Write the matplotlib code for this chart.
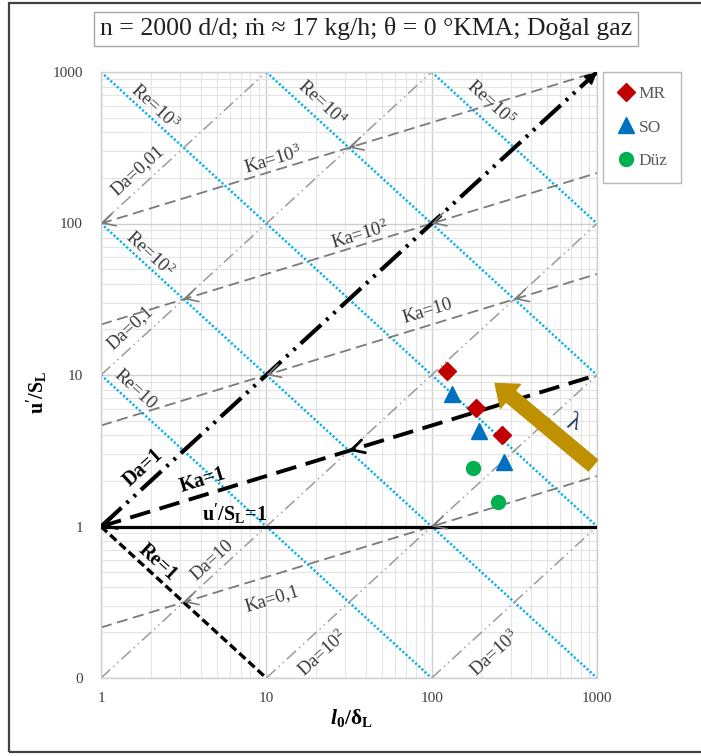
import numpy as np
import matplotlib
matplotlib.use("Agg")
import matplotlib.pyplot as plt
from matplotlib.ticker import FixedLocator, FixedFormatter, NullFormatter, LogLocator
from matplotlib.patches import Rectangle

plt.rcParams['font.family'] = ['Liberation Serif', 'DejaVu Serif']
plt.rcParams['mathtext.fontset'] = 'custom'
plt.rcParams['mathtext.rm'] = 'Liberation Serif'
plt.rcParams['mathtext.it'] = 'Liberation Serif:italic'
plt.rcParams['mathtext.bf'] = 'Liberation Serif:bold'
plt.rcParams['mathtext.bfit'] = 'Liberation Serif:bold:italic'
plt.rcParams['lines.scale_dashes'] = False

# ---- data ----
title = "n = 2000 d/d; ṁ ≈ 17 kg/h; θ = 0 °KMA; Doğal gaz"
series_names = ["MR", "SO", "Düz"]
mr_x = [123, 185, 266]
mr_y = [10.7, 6.1, 4.0]
so_x = [132, 194, 272]
so_y = [7.5, 4.3, 2.66]
duz_x = [177, 253]
duz_y = [2.44, 1.45]

x_ticks = [1, 10, 100, 1000]
x_tick_labels = ["1", "10", "100", "1000"]
y_ticks = [0.1, 1, 10, 100, 1000]
y_tick_labels = ["0", "1", "10", "100", "1000"]

re_values = [10, 100, 1000, 1e4, 1e5]      # blue dotted, Re = u' l / (S_L delta)
da_values = [0.01, 0.1, 10, 100, 1000]      # grey dash-dot-dot, Da = l / u'
ka_values = [0.1, 10, 100, 1000]            # grey dashed, Ka = u'^1.5 l^-0.5

# lambda trend arrow (tail -> head)
lam_tail = (947, 2.53)
lam_head = (242, 8.79)

XMIN, XMAX = 1, 1000
YMIN, YMAX = 0.1, 1000

W, H = 701, 756
fig = plt.figure(figsize=(W / 100, H / 100), dpi=100)
ax = fig.add_axes([101 / W, 1 - 678 / H, 496 / W, 606 / H])
ax.set_xscale('log')
ax.set_yscale('log')
ax.set_xlim(XMIN, XMAX)
ax.set_ylim(YMIN, YMAX)

# grid
ax.xaxis.set_minor_locator(LogLocator(base=10, subs=np.arange(2, 10)))
ax.yaxis.set_minor_locator(LogLocator(base=10, subs=np.arange(2, 10)))
ax.xaxis.set_minor_formatter(NullFormatter())
ax.yaxis.set_minor_formatter(NullFormatter())
ax.grid(which='major', color='#CFCFCF', lw=1.0, zorder=0)
ax.grid(which='minor', color='#E4E4E4', lw=0.8, zorder=0)
ax.set_axisbelow(True)
for s in ax.spines.values():
    s.set_color('#D0D0D0')
    s.set_linewidth(1.0)

ax.xaxis.set_major_locator(FixedLocator(x_ticks))
ax.xaxis.set_major_formatter(FixedFormatter(x_tick_labels))
ax.yaxis.set_major_locator(FixedLocator(y_ticks))
ax.yaxis.set_major_formatter(FixedFormatter(y_tick_labels))
ax.tick_params(which='both', length=0, labelsize=11, colors='#404040')
ax.tick_params(axis='x', pad=10)
ax.tick_params(axis='y', pad=13)

lx = np.logspace(0, 3, 400)


def clipped(xs, ys):
    m = (xs >= XMIN * 0.999) & (xs <= XMAX * 1.001) & (ys >= YMIN * 0.999) & (ys <= YMAX * 1.001)
    return xs[m], ys[m]


# Re lines
for re in re_values:
    xs, ys = clipped(lx, re / lx)
    ax.plot(xs, ys, color='#00B0F0', lw=1.8, dashes=(1.5, 1.6), zorder=2)
xs, ys = clipped(lx, 1 / lx)
ax.plot(xs, ys, color='black', lw=2.4, dashes=(6, 3), zorder=3)

# Da lines
for da in da_values:
    xs, ys = clipped(lx, lx / da)
    ax.plot(xs, ys, color='#9A9A9A', lw=1.1, dashes=(9, 3, 1, 3, 1, 3), zorder=2)
ax.plot(lx, lx, color='black', lw=3.0, dashes=(20, 5, 2, 5, 2, 5), zorder=3)

# Ka lines
for ka in ka_values:
    xs, ys = clipped(lx, ka ** (2 / 3) * lx ** (1 / 3))
    ax.plot(xs, ys, color='#7A7A7A', lw=1.3, dashes=(8, 4), zorder=2)
ax.plot(lx, lx ** (1 / 3), color='black', lw=2.8, dashes=(15, 7), zorder=3)

# u'/S_L = 1
ax.plot([XMIN, XMAX], [1, 1], color='black', lw=2.3, zorder=3)


def open_head(x, y, slope, color, lw):
    # open arrow head at (x, y) pointing toward smaller l along a line of given log slope
    ax.annotate('', xy=(x, y), xytext=(x * 1.08, y * 1.08 ** slope),
                arrowprops=dict(arrowstyle='->,head_length=0.55,head_width=0.3',
                                color=color, lw=lw, shrinkA=0, shrinkB=0,
                                mutation_scale=16), zorder=4)


# arrow heads where the Ka lines meet the Da lines
for ka in ka_values + [1]:
    for da in da_values + [1]:
        xi = ka * da ** 1.5
        yi = xi / da
        if XMIN * 0.999 <= xi < XMAX * 0.99 and YMIN <= yi <= YMAX:
            if ka == 1:
                open_head(xi, yi, 1 / 3, 'black', 2.0)
            else:
                open_head(xi, yi, 1 / 3, '#7A7A7A', 1.2)

# filled head at the end of the Da = 1 line
ax.annotate('', xy=(XMAX, YMAX), xytext=(XMAX / 1.1, YMAX / 1.1),
            arrowprops=dict(arrowstyle='-|>,head_length=0.5,head_width=0.25', color='black',
                            lw=1.5, shrinkA=0, shrinkB=0, mutation_scale=14), zorder=4)

# rotation angles of the families in screen space
dec_x = 496 / 3
dec_y = 606 / 4
ang_re = -np.degrees(np.arctan(dec_y / dec_x))
ang_da = np.degrees(np.arctan(dec_y / dec_x))
ang_ka = np.degrees(np.arctan(dec_y / 3 / dec_x))

lab_kw = dict(ha='center', va='center', fontsize=13.5, color='#3A3A3A', zorder=5)
bold_kw = dict(ha='center', va='center', fontsize=14.5, color='black', fontweight='bold', zorder=5)

ax.text(2.12, 583, r"Re=10$^3$", rotation=ang_re, **lab_kw)
ax.text(21.7, 620, r"Re=10$^4$", rotation=ang_re, **lab_kw)
ax.text(226, 620, r"Re=10$^5$", rotation=ang_re, **lab_kw)
ax.text(1.98, 63, r"Re=10$^2$", rotation=ang_re, **lab_kw)
ax.text(1.6, 8.0, "Re=10", rotation=ang_re, **lab_kw)
ax.text(2.21, 0.578, "Re=1", rotation=ang_re, **bold_kw)

ax.text(1.67, 224, "Da=0,01", rotation=ang_da, **lab_kw)
ax.text(1.5, 20.6, "Da=0,1", rotation=ang_da, **lab_kw)
ax.text(1.8, 2.45, "Da=1", rotation=ang_da, **bold_kw)
ax.text(4.7, 0.597, "Da=10", rotation=ang_da, **lab_kw)
ax.text(22, 0.145, r"Da=10$^2$", rotation=ang_da, **lab_kw)
ax.text(239, 0.145, r"Da=10$^3$", rotation=ang_da, **lab_kw)

ax.text(11, 261, r"Ka=10$^3$", rotation=ang_ka, **lab_kw)
ax.text(36.9, 83.4, r"Ka=10$^2$", rotation=ang_ka, **lab_kw)
ax.text(95, 26.3, "Ka=10", rotation=ang_ka, **lab_kw)
ax.text(4.14, 2.01, "Ka=1", rotation=ang_ka, **bold_kw)
ax.text(10.8, 0.335, "Ka=0,1", rotation=ang_ka, **lab_kw)

ax.text(6.47, 1.22, r"$\mathbf{u'/S_L}$=1", **bold_kw)

# data series
ax.plot(mr_x, mr_y, 'D', color='#C00000', ms=9, mec='#C00000', zorder=7, label=series_names[0])
ax.plot(so_x, so_y, '^', color='#0070C0', ms=11, mec='#0070C0', zorder=7, label=series_names[1])
ax.plot(duz_x, duz_y, 'o', color='#00B050', ms=10, mec='#00B050', zorder=7, label=series_names[2])

# lambda trend arrow
ax.annotate('', xy=lam_head, xytext=lam_tail,
            arrowprops=dict(arrowstyle='simple,head_length=0.9,head_width=1.4,tail_width=0.65',
                            color='#BF9000', shrinkA=0, shrinkB=0, mutation_scale=16), zorder=6)
ax.text(727, 4.86, "λ", color='#1F3864', fontsize=19, style='italic', ha='center',
        va='center', rotation=-15, zorder=6)

leg = fig.legend(loc='upper left', bbox_to_anchor=(603 / W, 1 - 72 / H),
                 bbox_transform=fig.transFigure, frameon=True, fancybox=False,
                 edgecolor='#A6A6A6', fontsize=12.5, labelspacing=1.0, handlelength=1.0,
                 handletextpad=0.25, borderpad=0.8, borderaxespad=0)
for t in leg.get_texts():
    t.set_color('#595959')
leg.get_frame().set_linewidth(1.0)

# axis titles
fig.text(37 / W, 1 - 392 / H, r"$\mathbf{u'/S_L}$", rotation=90, ha='center', va='center',
         fontsize=14.5)
fig.text(351 / W, 1 - 718 / H, r"$\mathbfit{l}_{\mathbf{0}}\mathbf{/\delta_L}$", ha='center',
         va='center', fontsize=15.5)

# title box
fig.text(366 / W, 1 - 29 / H, title, ha='center', va='center', fontsize=18.5, color='#202020',
         bbox=dict(boxstyle='square,pad=0.22', fc='white', ec='#A6A6A6', lw=1.0))

# outer frame
fig.patches.append(Rectangle((9 / W, 1 - 752 / H), 720 / W, 749 / H, transform=fig.transFigure,
                             fill=False, ec='#404040', lw=1.6, zorder=0))

fig.savefig('out.png', dpi=100)
